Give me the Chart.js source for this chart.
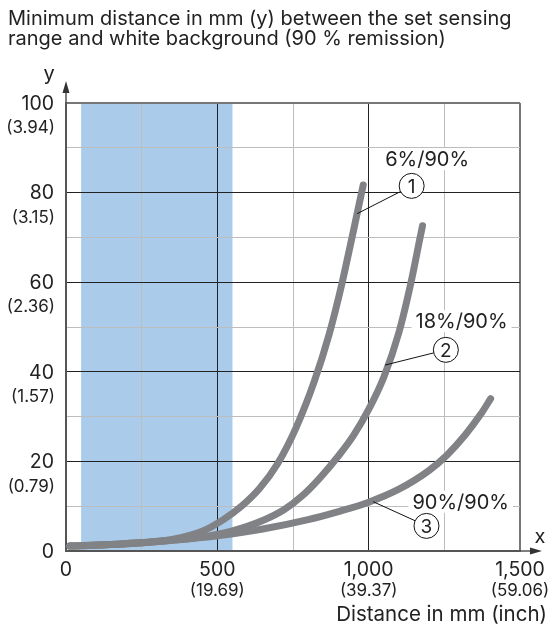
<!DOCTYPE html>
<html lang="en">
<head>
    <meta charset="UTF-8">
    <title>Minimum distance vs sensing range</title>
    <script src="https://cdn.jsdelivr.net/npm/chart.js"></script>
    <style>
        body { margin: 0; background: #fff; }
        canvas { display: block; }
    </style>
</head>
<body>
    <canvas id="myChart" width="552" height="627"></canvas>
    <script>
        // curve data: distance in mm (x) -> min distance in mm (y)
        const dist1 = [13, 200, 350, 450, 520, 580, 640, 700, 760, 820, 870, 910, 945, 982];
        const minDist1 = [1.1, 1.7, 2.6, 4.4, 7.0, 10.0, 14.0, 19.6, 27.5, 37.8, 48.5, 59.2, 70.0, 81.7];

        const dist2 = [13, 200, 350, 450, 550, 650, 720, 780, 840, 900, 950, 1000, 1050, 1100, 1140, 1170, 1178];
        const minDist2 = [1.1, 1.6, 2.4, 3.1, 4.5, 6.8, 9.2, 12.3, 16.4, 21.2, 25.8, 31.6, 38.8, 48.8, 60.0, 70.0, 72.6];

        const dist3 = [13, 200, 350, 500, 650, 800, 900, 1000, 1100, 1200, 1260, 1320, 1370, 1403];
        const minDist3 = [1.1, 1.6, 2.4, 3.4, 4.9, 7.0, 8.8, 10.9, 13.8, 18.0, 21.5, 26.0, 30.5, 34.0];

        const seriesNames = ['6%/90%', '18%/90%', '90%/90%'];

        // tick labels
        const xTicksMm = [0, 500, 1000, 1500];
        const xTicksInch = ['', '(19.69)', '(39.37)', '(59.06)'];
        const yTicksMm = [0, 20, 40, 60, 80, 100];
        const yTicksInch = ['', '(0.79)', '(1.57)', '(2.36)', '(3.15)', '(3.94)'];

        // shaded band (mm)
        const bandFrom = 50;
        const bandTo = 550;

        // callout positions in data units: label, circle, point on curve
        const callouts = [
            {text: seriesNames[0], num: '1', label: [1193, 87.5], circle: [1142, 81.5], target: [962, 75.3]},
            {text: seriesNames[1], num: '2', label: [1307, 51.3], circle: [1255, 44.9], target: [1054, 41.5]},
            {text: seriesNames[2], num: '3', label: [1304, 11], circle: [1191, 5.6], target: [1015, 11]}
        ];

        const FONT = 'Inter, "Noto Sans", sans-serif';
        const TEXT = '#222';
        const CURVE = '#808285';

        const toPoints = (xs, ys) => xs.map((x, i) => ({x: x, y: ys[i]}));

        const decorations = {
            id: 'decorations',
            beforeDraw(chart) {
                const {ctx, chartArea, scales: {x}} = chart;
                ctx.save();
                ctx.fillStyle = '#aacbea';
                const l = x.getPixelForValue(bandFrom), r = x.getPixelForValue(bandTo);
                ctx.fillRect(l, chartArea.top, r - l, chartArea.bottom - chartArea.top);
                ctx.restore();
            },
            afterDraw(chart) {
                const {ctx, chartArea, scales: {x, y}} = chart;
                ctx.save();

                // title
                ctx.fillStyle = TEXT;
                ctx.font = '20px ' + FONT;
                ctx.textAlign = 'left';
                ctx.textBaseline = 'alphabetic';
                ctx.fillText('Minimum distance in mm (y) between the set sensing', 8, 25);
                ctx.fillText('range and white background (90 % remission)', 8, 45);

                // axis arrows
                ctx.strokeStyle = '#555';
                ctx.fillStyle = '#333';
                ctx.lineWidth = 1.5;
                const x0 = x.getPixelForValue(0), y0 = y.getPixelForValue(0);
                ctx.beginPath();
                ctx.moveTo(x0, chartArea.top);
                ctx.lineTo(x0, chartArea.top - 14);
                ctx.moveTo(chartArea.right, y0);
                ctx.lineTo(chartArea.right + 14, y0);
                ctx.stroke();
                ctx.beginPath();
                ctx.moveTo(x0, chartArea.top - 22);
                ctx.lineTo(x0 - 3.5, chartArea.top - 10);
                ctx.lineTo(x0 + 3.5, chartArea.top - 10);
                ctx.closePath();
                ctx.moveTo(chartArea.right + 22, y0);
                ctx.lineTo(chartArea.right + 10, y0 - 3.5);
                ctx.lineTo(chartArea.right + 10, y0 + 3.5);
                ctx.closePath();
                ctx.fill();

                ctx.fillStyle = TEXT;
                ctx.font = '20px ' + FONT;
                ctx.textAlign = 'center';
                ctx.textBaseline = 'middle';
                ctx.fillText('y', x0 - 17, chartArea.top - 29);
                ctx.fillText('x', chartArea.right + 20, y0 - 14);

                // y tick labels
                ctx.textAlign = 'right';
                yTicksMm.forEach((v, i) => {
                    const py = y.getPixelForValue(v);
                    ctx.font = '19.5px ' + FONT;
                    ctx.fillText(String(v), x0 - 12, py + 1);
                    ctx.font = '17px ' + FONT;
                    ctx.fillText(yTicksInch[i], x0 - 11, py + 25);
                });

                // x tick labels
                ctx.textAlign = 'center';
                xTicksMm.forEach((v, i) => {
                    const px = x.getPixelForValue(v);
                    ctx.font = '19.5px ' + FONT;
                    ctx.fillText(v.toLocaleString('en-US'), px, y0 + 19);
                    ctx.font = '17px ' + FONT;
                    ctx.fillText(xTicksInch[i], px, y0 + 40);
                });

                ctx.font = '20.5px ' + FONT;
                ctx.textAlign = 'right';
                ctx.fillText('Distance in mm (inch)', 547, y0 + 64);

                ctx.restore();
            }
        };

        const callout = {
            id: 'callout',
            afterDatasetsDraw(chart) {
                const {ctx, scales: {x, y}} = chart;
                ctx.save();
                callouts.forEach(c => {
                    const lx = x.getPixelForValue(c.label[0]), ly = y.getPixelForValue(c.label[1]);
                    const cx = x.getPixelForValue(c.circle[0]), cy = y.getPixelForValue(c.circle[1]);
                    const tx = x.getPixelForValue(c.target[0]), ty = y.getPixelForValue(c.target[1]);
                    const r = 12.5;

                    // label with white knockout
                    ctx.font = '20px ' + FONT;
                    const w = ctx.measureText(c.text).width;
                    ctx.fillStyle = '#fff';
                    ctx.fillRect(lx - w / 2 - 4, ly - 11, w + 8, 22);
                    ctx.fillStyle = TEXT;
                    ctx.textAlign = 'center';
                    ctx.textBaseline = 'middle';
                    ctx.fillText(c.text, lx, ly + 1);

                    // leader line from circle edge to curve
                    const ang = Math.atan2(ty - cy, tx - cx);
                    ctx.strokeStyle = '#111';
                    ctx.lineWidth = 1;
                    ctx.beginPath();
                    ctx.moveTo(cx + r * Math.cos(ang), cy + r * Math.sin(ang));
                    ctx.lineTo(tx, ty);
                    ctx.stroke();

                    // numbered circle
                    ctx.fillStyle = '#fff';
                    ctx.beginPath();
                    ctx.arc(cx, cy, r, 0, Math.PI * 2);
                    ctx.fill();
                    ctx.stroke();
                    ctx.fillStyle = TEXT;
                    ctx.font = '19px ' + FONT;
                    ctx.fillText(c.num, cx, cy + 1);
                });
                ctx.restore();
            }
        };

        const lineStyle = {
            borderColor: CURVE,
            borderWidth: 7,
            borderCapStyle: 'round',
            borderJoinStyle: 'round',
            pointRadius: 0,
            cubicInterpolationMode: 'monotone',
            fill: false
        };

        const data = {
            datasets: [
                Object.assign({label: seriesNames[0], data: toPoints(dist1, minDist1)}, lineStyle),
                Object.assign({label: seriesNames[1], data: toPoints(dist2, minDist2)}, lineStyle),
                Object.assign({label: seriesNames[2], data: toPoints(dist3, minDist3)}, lineStyle)
            ]
        };

        const gridColor = (major, edge) => ctx => {
            const v = ctx.tick.value;
            if (v === edge) return '#777';
            return v % major === 0 ? '#222' : '#bdbdbd';
        };
        const gridWidth = (edge) => ctx => ctx.tick.value === edge ? 2 : 1;

        const config = {
            type: 'line',
            data: data,
            options: {
                responsive: false,
                animation: false,
                events: [],
                layout: {
                    padding: {left: 66, right: 32, top: 103, bottom: 76}
                },
                plugins: {
                    legend: {display: false},
                    title: {display: false},
                    tooltip: {enabled: false}
                },
                scales: {
                    x: {
                        type: 'linear',
                        min: 0,
                        max: 1500,
                        ticks: {display: false, stepSize: 250},
                        grid: {color: gridColor(500, 1500), lineWidth: gridWidth(1500), drawTicks: false},
                        border: {color: '#555', width: 2}
                    },
                    y: {
                        min: 0,
                        max: 100,
                        ticks: {display: false, stepSize: 10},
                        grid: {color: gridColor(20, 100), lineWidth: gridWidth(100), drawTicks: false},
                        border: {color: '#555', width: 2}
                    }
                }
            },
            plugins: [decorations, callout]
        };

        const myChart = new Chart(document.getElementById('myChart'), config);
    </script>
</body>
</html>
